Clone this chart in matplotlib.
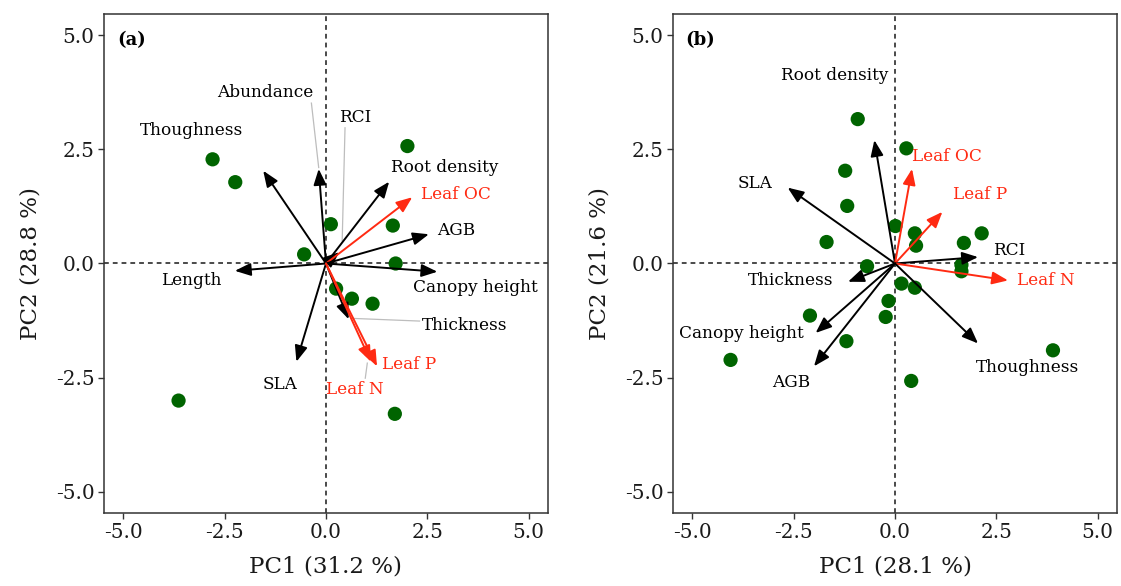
import matplotlib
matplotlib.use("Agg")
import matplotlib.pyplot as plt

plt.rcParams['font.family'] = ['DejaVu Serif']

# ---- panel (a) ----
a_pc1 = [-2.80, -2.24, 2.01, 0.12, 1.65, -0.54, 1.72, 0.25, 0.64, 1.15, -3.64, 1.70]
a_pc2 = [2.28, 1.78, 2.57, 0.86, 0.83, 0.20, 0.00, -0.55, -0.77, -0.88, -3.00, -3.29]

a_vars = ["Thoughness", "Abundance", "RCI", "Root density", "Leaf OC", "AGB",
          "Length", "Canopy height", "SLA", "Thickness", "Leaf P", "Leaf N"]
a_vx = [-1.55, -0.18, 0.33, 1.56, 2.13, 2.54, -2.25, 2.75, -0.73, 0.56, 1.26, 1.11]
a_vy = [2.03, 2.07, 0.25, 1.79, 1.45, 0.64, -0.16, -0.18, -2.15, -1.22, -2.25, -2.15]
a_red = ["Leaf OC", "Leaf P", "Leaf N"]
a_lx = [-3.31, -1.49, 0.72, 2.93, 3.20, 3.22, -3.33, 3.70, -1.13, 3.42, 2.06, 0.72]
a_ly = [2.91, 3.74, 3.19, 2.09, 1.50, 0.73, -0.38, -0.52, -2.64, -1.36, -2.20, -2.76]
# repel segments (label side -> arrow side)
a_seg = {"Abundance": ((-0.36, 3.51), (-0.18, 2.10)),
         "RCI": ((0.47, 2.97), (0.40, 0.50)),
         "Thickness": ((2.31, -1.26), (0.62, -1.20)),
         "Leaf N": ((0.97, -2.51), (1.02, -2.18))}

# ---- panel (b) ----
b_pc1 = [-0.92, 0.28, -1.23, -1.18, -1.69, 0.01, 0.49, 0.52, 1.70, 2.14, 1.64,
         1.64, -0.69, 0.16, 0.49, -0.16, -0.23, -2.10, -1.20, -4.06, 3.90, 0.40]
b_pc2 = [3.16, 2.52, 2.03, 1.26, 0.47, 0.82, 0.66, 0.39, 0.45, 0.66, -0.03,
         -0.17, -0.06, -0.44, -0.53, -0.82, -1.17, -1.14, -1.70, -2.11, -1.90, -2.57]

b_vars = ["Root density", "SLA", "Leaf OC", "Leaf P", "RCI", "Leaf N",
          "Thickness", "Canopy height", "AGB", "Thoughness"]
b_vx = [-0.51, -2.65, 0.42, 1.17, 2.05, 2.79, -1.16, -1.96, -2.00, 2.05]
b_vy = [2.70, 1.66, 2.07, 1.13, 0.14, -0.37, -0.40, -1.52, -2.25, -1.75]
b_red = ["Leaf OC", "Leaf P", "Leaf N"]
b_lx = [-1.50, -3.46, 1.29, 2.10, 2.81, 3.72, -2.57, -3.80, -2.57, 3.26]
b_ly = [4.11, 1.74, 2.34, 1.51, 0.29, -0.38, -0.38, -1.54, -2.61, -2.27]
b_seg = {}

ticks = [-5.0, -2.5, 0.0, 2.5, 5.0]
xlabels = ["PC1 (31.2 %)", "PC1 (28.1 %)"]
ylabels = ["PC2 (28.8 %)", "PC2 (21.6 %)"]
tags = ["(a)", "(b)"]

RED = "#ff2a12"
GREEN = "#006400"

fig = plt.figure(figsize=(11.21, 5.86), dpi=100)
ax_a = fig.add_axes([0.0928, 0.1246, 0.396, 0.8515])
ax_b = fig.add_axes([0.6004, 0.1246, 0.396, 0.8515])

panels = [
    (ax_a, a_pc1, a_pc2, a_vars, a_vx, a_vy, a_red, a_lx, a_ly, a_seg),
    (ax_b, b_pc1, b_pc2, b_vars, b_vx, b_vy, b_red, b_lx, b_ly, b_seg),
]

for i, (ax, px, py, names, vx, vy, reds, lx, ly, segs) in enumerate(panels):
    ax.set_xlim(-5.48, 5.48)
    ax.set_ylim(-5.46, 5.46)
    ax.axhline(0, color="#222222", ls=(0, (3, 2.5)), lw=1.15, zorder=1)
    ax.axvline(0, color="#222222", ls=(0, (3, 2.5)), lw=1.15, zorder=1)

    ax.scatter(px, py, s=105, color=GREEN, edgecolors="none", zorder=2)

    for n, (p, q) in segs.items():
        ax.plot([p[0], q[0]], [p[1], q[1]], color="#bdbdbd", lw=0.9, zorder=2)

    for n, x, y, tx, ty in zip(names, vx, vy, lx, ly):
        c = RED if n in reds else "black"
        ax.annotate("", xy=(x, y), xytext=(0, 0),
                    arrowprops=dict(arrowstyle="-|>,head_length=0.6,head_width=0.24",
                                    mutation_scale=16, color=c, lw=1.4,
                                    shrinkA=0, shrinkB=0),
                    zorder=3)
        ax.text(tx, ty, n, color=c, fontsize=12.2, ha="center", va="center", zorder=4)

    ax.text(-4.80, 4.90, tags[i], fontsize=13, fontweight="bold", ha="center", va="center")

    ax.set_xticks(ticks)
    ax.set_yticks(ticks)
    ax.set_xticklabels([f"{t:.1f}" for t in ticks])
    ax.set_yticklabels([f"{t:.1f}" for t in ticks])
    ax.tick_params(direction="out", length=4, width=1, color="#333333",
                   labelsize=14.4, labelcolor="#1a1a1a", pad=3)
    for s in ax.spines.values():
        s.set_color("#333333")
        s.set_linewidth(1.1)
    ax.set_xlabel(xlabels[i], fontsize=16.6, color="#1a1a1a", labelpad=10)
    ax.set_ylabel(ylabels[i], fontsize=16.6, color="#1a1a1a", labelpad=10)

fig.savefig("out.png", dpi=100)
